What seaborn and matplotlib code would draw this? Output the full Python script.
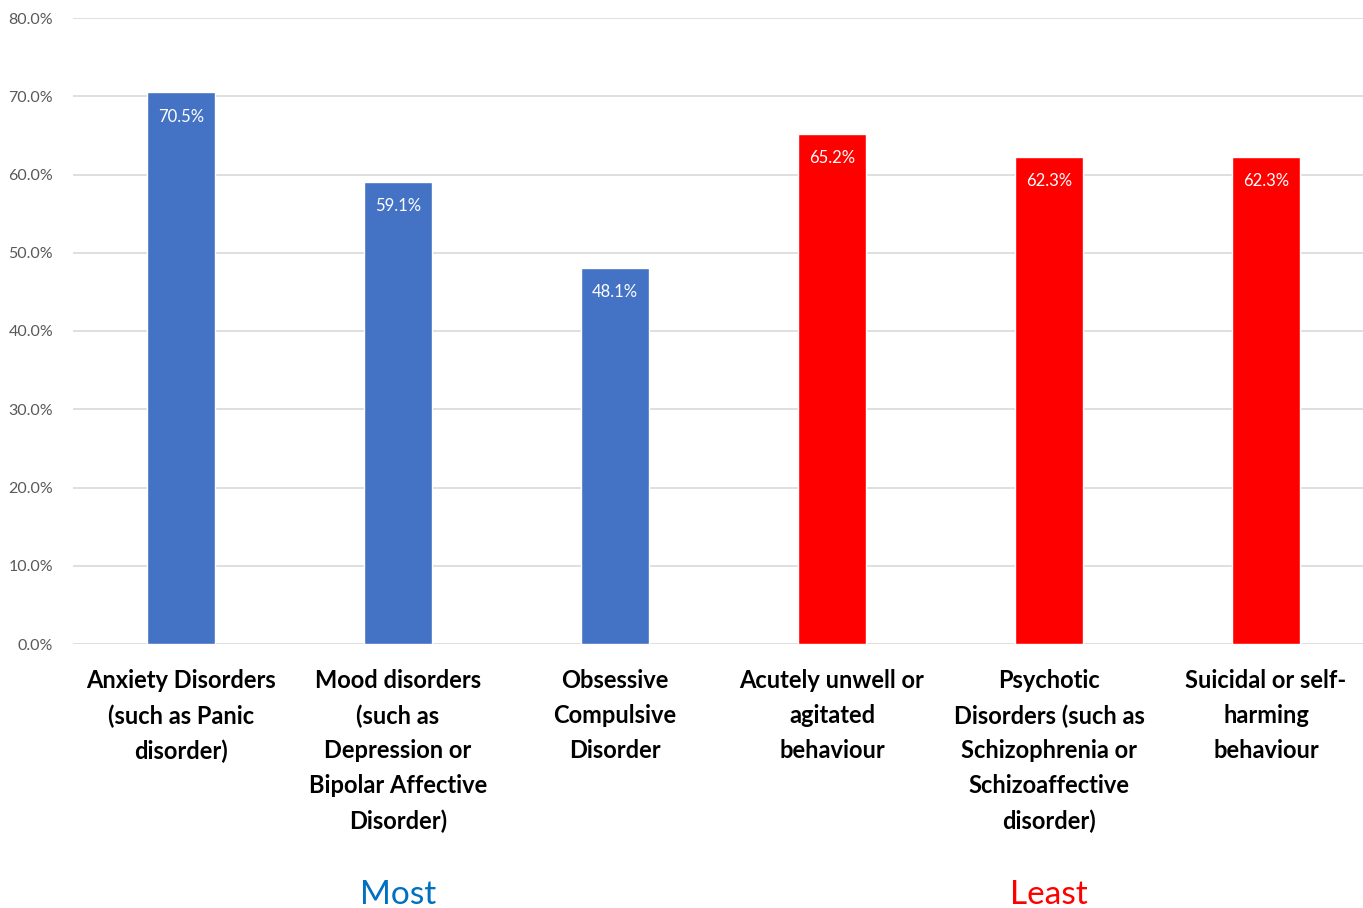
import matplotlib
matplotlib.use("Agg")
import matplotlib.pyplot as plt
import seaborn as sns
import pandas as pd
from matplotlib.ticker import FuncFormatter

categories = [
    "Anxiety Disorders\n(such as Panic\ndisorder)",
    "Mood disorders\n(such as\nDepression or\nBipolar Affective\nDisorder)",
    "Obsessive\nCompulsive\nDisorder",
    "Acutely unwell or\nagitated\nbehaviour",
    "Psychotic\nDisorders (such as\nSchizophrenia or\nSchizoaffective\ndisorder)",
    "Suicidal or self-\nharming\nbehaviour",
]
values = [70.5, 59.1, 48.1, 65.2, 62.3, 62.3]
groups = ["Most", "Most", "Most", "Least", "Least", "Least"]
group_colors = {"Most": "#4472C4", "Least": "#FF0000"}
group_text_colors = {"Most": "#0070C0", "Least": "#FF0000"}
yticks = [0, 10, 20, 30, 40, 50, 60, 70, 80]

df = pd.DataFrame({"cat": categories, "val": values, "grp": groups})

sns.set_theme(style="white")
plt.rcParams["font.family"] = ["Lato", "DejaVu Sans"]

fig = plt.figure(figsize=(13.63, 9.08), dpi=100)
ax = fig.add_axes([72.5 / 1363, 1 - 644 / 908, 1302 / 1363, (644 - 18) / 908])

sns.barplot(data=df, x="cat", y="val", hue="grp", palette=group_colors,
            dodge=False, width=0.313, legend=False, ax=ax, saturation=1)

ax.set_ylim(0, 80)
ax.set_xlim(-0.5, len(categories) - 0.5)
ax.set_yticks(yticks)
ax.yaxis.set_major_formatter(FuncFormatter(lambda v, p: f"{v:.1f}%"))
ax.grid(axis="y", color="#d9d9d9", linewidth=1.2)
ax.set_axisbelow(True)
for s in ax.spines.values():
    s.set_visible(False)
ax.set_xlabel("")
ax.set_ylabel("")
ax.tick_params(axis="y", length=0, labelsize=11.5, labelcolor="#595959", pad=14)
ax.tick_params(axis="x", length=0, pad=18)
ax.set_xticks(range(len(categories)))
ax.set_xticklabels(categories, fontsize=17, fontweight="bold", color="black",
                   linespacing=1.62, va="top")

for i, v in enumerate(values):
    ax.text(i, v - 3.1, f"{v:.1f}%", ha="center", va="center", color="white", fontsize=12)

# group labels
most_idx = [i for i, g in enumerate(groups) if g == "Most"]
least_idx = [i for i, g in enumerate(groups) if g == "Least"]
for idx, g in ((most_idx, "Most"), (least_idx, "Least")):
    xc = sum(idx) / len(idx)
    x_fig = fig.transFigure.inverted().transform(ax.transData.transform((xc, 0)))[0]
    fig.text(x_fig, 1 - 895 / 908, g, ha="center", va="center",
             color=group_text_colors[g], fontsize=24)

fig.savefig("out.png", dpi=100)
